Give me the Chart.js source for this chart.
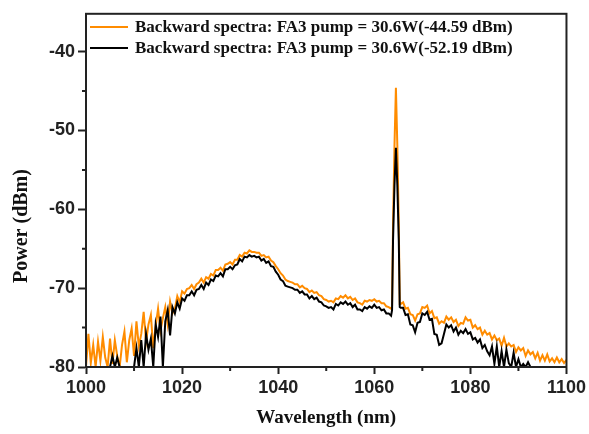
<!DOCTYPE html>
<html>
<head>
<meta charset="utf-8">
<script src="https://cdn.jsdelivr.net/npm/chart.js@4.4.0/dist/chart.umd.min.js"></script>
<style>
  html, body { margin: 0; padding: 0; background: #fff; }
</style>
</head>
<body>
<canvas id="chart" width="589" height="434"></canvas>
<script>
// wavelength grid: 1000 .. 1100 nm every 0.5 nm
const wlStart = 1000;
const wlStep = 0.5;

const labels = [
  "Backward spectra: FA3 pump = 30.6W(-44.59 dBm)",
  "Backward spectra: FA3 pump = 30.6W(-52.19 dBm)"
];

// orange trace, dBm, one row = 5 nm
const orangeDbm = [
  -80, -75.8, -79.5, -77.2, -80, -76.8, -79.2, -76.2, -78.8, -80,
  -76.4, -79.6, -76.6, -78.6, -80, -77.2, -75.5, -79.4, -76.6, -75.1,
  -78.6, -74.2, -77.4, -75.8, -73.0, -76.8, -74.6, -73.4, -77.6, -74.8,
  -72.6, -75.4, -73.8, -72.4, -74.6, -71.7, -73.2, -72.6, -71.0, -71.8,
  -70.4, -70.7, -70.1, -70.0, -69.6, -70.1, -69.5, -69.3, -68.8, -69.3,
  -68.6, -68.8, -68.2, -68.4, -67.7, -67.7, -67.4, -67.8, -67.0, -66.9,
  -66.7, -67.0, -66.4, -66.4, -65.8, -66.0, -65.5, -65.6, -65.2, -65.4,
  -65.4, -65.5, -65.5, -65.9, -65.8, -66.1, -66.0, -66.5, -66.7, -67.2,
  -67.6, -68.1, -68.4, -68.9, -69.1, -69.2, -69.3, -69.5, -69.5, -69.9,
  -69.7, -70.0, -70.1, -70.5, -70.3, -70.6, -70.5, -70.9, -71.0, -71.4,
  -71.5, -71.7, -71.6, -71.8, -71.3, -71.4, -71.0, -71.2, -70.9, -71.3,
  -71.1, -71.5, -71.3, -71.8, -71.9, -72.1, -71.6, -71.7, -71.5, -71.6,
  -71.4, -71.7, -71.6, -71.9, -71.9, -72.3, -72.4, -72.6, -70.0, -44.59,
  -68.0, -72.0, -71.8, -72.6, -72.5, -73.3, -73.4, -74.1, -73.3, -73.2,
  -72.4, -72.5, -72.2, -73.2, -72.9, -73.8, -73.7, -74.5, -74.2, -74.4,
  -73.6, -74.0, -73.7, -74.3, -74.0, -74.8, -74.4, -74.5, -73.7, -74.1,
  -74.0, -75.0, -74.7, -75.2, -75.0, -75.9, -75.4, -75.9, -75.7, -76.5,
  -76.0, -76.6, -76.4, -77.3, -76.3, -77.4, -77.0, -77.4, -77.2, -78.1,
  -77.5, -77.9, -77.6, -78.6, -77.9, -78.4, -78.1, -78.9, -78.2, -79.2,
  -78.5, -79.2, -78.4, -79.3, -78.9, -79.4, -78.8, -79.4, -79.0, -79.5,
  -79.1
];

// black trace, dBm, same grid
const blackDbm = [
  -80, -80, -80, -80, -80, -80, -80, -80, -80, -80,
  -80, -78.6, -80, -78.8, -80, -80, -80, -80, -80, -80,
  -80, -77.6, -80, -76.6, -80, -75.8, -77.8, -76.4, -80, -74.6,
  -76.2, -73.6, -80, -74.2, -72.8, -76.0, -72.4, -73.2, -71.8, -72.6,
  -71.3, -71.6, -70.9, -70.9, -70.4, -70.9, -70.2, -70.1, -69.6, -70.1,
  -69.3, -69.6, -68.9, -69.1, -68.4, -68.5, -68.1, -68.5, -67.6, -67.6,
  -67.3, -67.6, -67.1, -67.0, -66.3, -66.6, -66.0, -66.1, -65.8, -66.0,
  -65.9, -66.1, -66.0, -66.5, -66.3, -66.8, -66.6, -67.2, -67.3, -67.9,
  -68.3, -68.9, -69.1, -69.7, -69.8, -69.9, -70.0, -70.2, -70.2, -70.6,
  -70.4, -70.8, -70.8, -71.3, -71.0, -71.4, -71.2, -71.7, -71.8, -72.2,
  -72.3, -72.5, -72.4, -72.7, -72.0, -72.2, -71.8, -72.0, -71.7, -72.1,
  -71.9, -72.4, -72.1, -72.7, -72.7, -72.9, -72.4, -72.6, -72.3, -72.5,
  -72.1, -72.5, -72.4, -72.8, -72.7, -73.2, -73.2, -73.5, -71.0, -52.19,
  -69.0, -72.5, -72.5, -73.4, -73.3, -74.6, -74.7, -75.6, -74.4, -74.3,
  -73.2, -73.4, -73.0, -74.0, -73.9, -75.8, -75.9, -77.2, -77.0, -75.8,
  -74.6, -75.0, -74.7, -75.5, -75.0, -75.9, -75.4, -75.7, -75.2, -75.8,
  -75.6, -76.5, -76.3, -76.9, -76.5, -77.6, -77.2, -78.0, -78.5, -77.4,
  -79.6, -77.4, -80, -78.0, -80, -77.8, -79.5, -80, -78.2, -80,
  -79.0, -80, -79.6, -80, -79.4, -80, -80, -80, -80, -80,
  -80, -80, -80, -80, -80, -80, -80, -80, -80, -80,
  -80
];

// the laser line, sampled finer than the grid
const peakWl = [1063.7, 1063.9, 1064.2, 1064.5, 1064.8, 1065.1, 1065.3];
const peakOrange = [-72.3, -62, -52, -44.59, -52, -62, -72];
const peakBlack = [-72.8, -64, -57, -52.19, -57, -64, -72.4];

const xTicks = [1000, 1020, 1040, 1060, 1080, 1100];
const yTicks = [-80, -70, -60, -50, -40];

function buildSeries(vals, pVals) {
  const pts = [];
  vals.forEach((v, i) => {
    const x = wlStart + i * wlStep;
    if (x > peakWl[0] - 0.1 && x < peakWl[peakWl.length - 1] + 0.1) return;
    pts.push({ x: x, y: v });
  });
  peakWl.forEach((x, i) => pts.push({ x: x, y: pVals[i] }));
  return pts.sort((a, b) => a.x - b.x);
}

const axisColor = "#222";
const tickFont = { family: "Liberation Sans", size: 18, weight: "bold" };

const frame = {
  id: "frame",
  afterDraw(chart) {
    const ctx = chart.ctx;
    const a = chart.chartArea;
    const xs = chart.scales.x, ys = chart.scales.y;
    ctx.save();
    ctx.strokeStyle = axisColor;
    ctx.lineWidth = 2;
    ctx.strokeRect(a.left, a.top, a.right - a.left, a.bottom - a.top);

    // minor ticks
    ctx.beginPath();
    for (let v = 1010; v < 1100; v += 20) {
      const px = xs.getPixelForValue(v);
      ctx.moveTo(px, a.bottom);
      ctx.lineTo(px, a.bottom + 4);
    }
    for (let v = -75; v <= -45; v += 10) {
      const py = ys.getPixelForValue(v);
      ctx.moveTo(a.left, py);
      ctx.lineTo(a.left - 4, py);
    }
    ctx.stroke();

    // legend inside the plot
    ctx.font = "bold 17px 'Liberation Serif'";
    ctx.textBaseline = "middle";
    ctx.textAlign = "left";
    chart.data.datasets.forEach((ds, i) => {
      const y = 27 + i * 21;
      ctx.strokeStyle = ds.borderColor;
      ctx.lineWidth = 2;
      ctx.beginPath();
      ctx.moveTo(90, y);
      ctx.lineTo(128, y);
      ctx.stroke();
      ctx.fillStyle = "#111";
      ctx.fillText(ds.label, 135, y + 1);
    });

    // axis titles
    ctx.font = "bold 19px 'Liberation Serif'";
    ctx.textAlign = "center";
    ctx.fillText("Wavelength (nm)", (a.left + a.right) / 2, 418);
    ctx.font = "bold 20px 'Liberation Serif'";
    ctx.translate(22, 226);
    ctx.rotate(-Math.PI / 2);
    ctx.fillText("Power (dBm)", 0, 0);
    ctx.restore();
  }
};

new Chart(document.getElementById("chart").getContext("2d"), {
  type: "line",
  data: {
    datasets: [
      {
        label: labels[0],
        data: buildSeries(orangeDbm, peakOrange),
        borderColor: "#ff8c00",
        borderWidth: 2,
        pointRadius: 0,
        order: 2
      },
      {
        label: labels[1],
        data: buildSeries(blackDbm, peakBlack),
        borderColor: "#000000",
        borderWidth: 2,
        pointRadius: 0,
        order: 1
      }
    ]
  },
  options: {
    responsive: false,
    animation: false,
    layout: { padding: { top: 10, right: 22, left: 0, bottom: 0 } },
    plugins: { legend: { display: false }, tooltip: { enabled: false } },
    scales: {
      x: {
        type: "linear",
        min: 1000,
        max: 1100,
        afterBuildTicks: s => { s.ticks = xTicks.map(v => ({ value: v })); },
        afterFit: s => { s.height = 67; },
        ticks: { font: tickFont, color: axisColor, padding: 3, maxRotation: 0, callback: v => String(v) },
        grid: { drawOnChartArea: false, tickLength: 7, tickWidth: 2, tickColor: axisColor },
        border: { color: axisColor, width: 2 }
      },
      y: {
        type: "linear",
        min: -80,
        max: -35.2,
        afterBuildTicks: s => { s.ticks = yTicks.map(v => ({ value: v })); },
        afterFit: s => { s.width = 86; },
        ticks: { font: tickFont, color: axisColor, padding: 3, callback: v => String(v) },
        grid: { drawOnChartArea: false, tickLength: 8, tickWidth: 2, tickColor: axisColor },
        border: { color: axisColor, width: 2 }
      }
    }
  },
  plugins: [frame]
});
</script>
</body>
</html>
